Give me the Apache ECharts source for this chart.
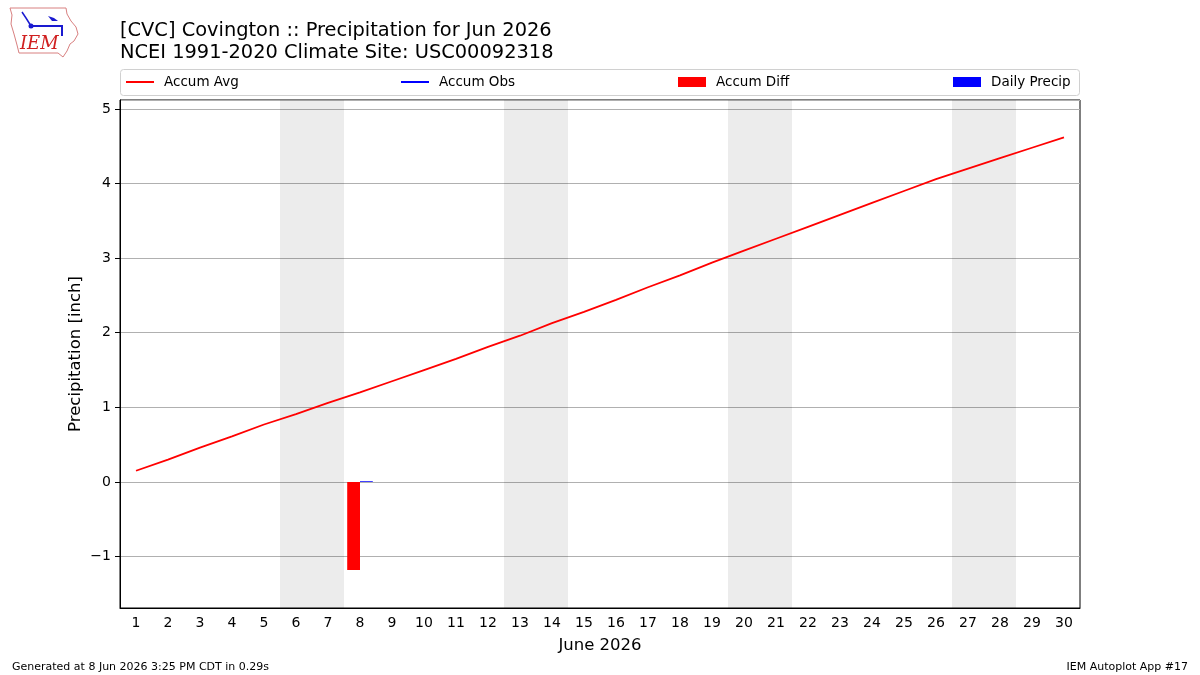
<!DOCTYPE html>
<html>
<head>
<meta charset="utf-8">
<script src="https://cdn.jsdelivr.net/npm/echarts@6/dist/echarts.min.js"></script>
<style>
  html, body { margin: 0; padding: 0; background: #fff; }
  #chart { width: 1200px; height: 675px; }
</style>
</head>
<body>
<div id="chart"></div>
<script>
const days = ['1', '2', '3', '4', '5', '6', '7', '8', '9', '10', '11', '12', '13', '14', '15',
  '16', '17', '18', '19', '20', '21', '22', '23', '24', '25', '26', '27', '28', '29', '30']
const accumAvg = [0.15, 0.30, 0.46, 0.61, 0.77, 0.91, 1.06, 1.20, 1.35, 1.50, 1.65, 1.81, 1.96, 2.13, 2.28,
  2.44, 2.61, 2.77, 2.94, 3.10, 3.26, 3.42, 3.58, 3.74, 3.90, 4.06, 4.20, 4.34, 4.48, 4.62]
const accumObs = [null, null, null, null, null, null, null, 0.01, null, null, null, null, null, null, null,
  null, null, null, null, null, null, null, null, null, null, null, null, null, null, null]
const accumDiff = [null, null, null, null, null, null, null, -1.18, null, null, null, null, null, null, null,
  null, null, null, null, null, null, null, null, null, null, null, null, null, null, null]
const dailyPrecip = [null, null, null, null, null, null, null, 0.01, null, null, null, null, null, null, null,
  null, null, null, null, null, null, null, null, null, null, null, null, null, null, null]
// weekend spans (day ranges shaded grey)
const weekends = [[5.5, 7.5], [12.5, 14.5], [19.5, 21.5], [26.5, 28.5]]

const font = 'DejaVu Sans'
const chart = echarts.init(document.getElementById('chart'), null, { renderer: 'canvas' })

const legendItem = (name, left, isLine) => ({
  data: [{ name, icon: 'rect' }],
  left,
  top: 70,
  itemWidth: 28,
  itemHeight: isLine ? 2 : 10,
  textStyle: { fontFamily: font, fontSize: 13.5, color: '#000', padding: [0, 0, 0, 5] },
  selectedMode: false
})

const option = {
  backgroundColor: '#fff',
  animation: false,
  title: [
    {
      text: '[CVC] Covington :: Precipitation for Jun 2026\nNCEI 1991-2020 Climate Site: USC00092318',
      left: 115,
      top: 15,
      textStyle: { fontFamily: font, fontSize: 19.4, fontWeight: 'normal', color: '#000', lineHeight: 22 }
    },
    {
      text: 'Generated at 8 Jun 2026 3:25 PM CDT in 0.29s',
      left: 7,
      top: 657,
      textStyle: { fontFamily: font, fontSize: 11, fontWeight: 'normal', color: '#000' }
    },
    {
      text: 'IEM Autoplot App #17',
      right: 7,
      top: 657,
      textStyle: { fontFamily: font, fontSize: 11, fontWeight: 'normal', color: '#000' }
    }
  ],
  legend: [
    legendItem('Accum Avg', 121, true),
    legendItem('Accum Obs', 396, true),
    legendItem('Accum Diff', 673, false),
    legendItem('Daily Precip', 948, false)
  ],
  graphic: [
    {
      type: 'rect',
      shape: { x: 120.5, y: 69.5, width: 959, height: 26, r: 3 },
      style: { fill: 'rgba(255,255,255,0)', stroke: '#d0d0d0', lineWidth: 1 },
      z: -1
    },
    {
      type: 'polyline',
      shape: { points: [[10, 8], [66, 8], [67, 14], [71, 21], [76, 27], [78, 34], [74, 41], [70, 44], [67, 51], [63, 57], [58, 53], [19, 53], [17, 45], [14, 34], [11, 24], [12, 15], [10, 8]] },
      style: { stroke: '#d88080', lineWidth: 1, fill: null }
    },
    {
      type: 'polyline',
      shape: { points: [[31, 26], [62, 26], [62, 36]] },
      style: { stroke: '#1a1ad0', lineWidth: 2, fill: null }
    },
    {
      type: 'polyline',
      shape: { points: [[22, 12], [26, 18], [31, 26]] },
      style: { stroke: '#1a1ad0', lineWidth: 1.5, fill: null }
    },
    {
      type: 'polygon',
      shape: { points: [[48, 16], [54, 18], [58, 21], [52, 21]] },
      style: { fill: '#1a1ad0' }
    },
    {
      type: 'circle',
      shape: { cx: 31, cy: 26, r: 2.5 },
      style: { fill: '#1a1ad0' }
    },
    {
      type: 'text',
      left: 20,
      top: 35,
      style: { text: 'IEM', font: 'italic 18px "DejaVu Serif"', fill: '#d02020' }
    }
  ],
  grid: {
    left: 120,
    right: 120,
    top: 100,
    bottom: 67,
    show: true,
    borderColor: '#000',
    borderWidth: 1,
    backgroundColor: 'transparent'
  },
  xAxis: [
    {
      type: 'category',
      data: days,
      boundaryGap: true,
      name: 'June 2026',
      nameLocation: 'middle',
      nameGap: 29,
      nameTextStyle: { fontFamily: font, fontSize: 16.5, color: '#000' },
      axisLine: { onZero: false, lineStyle: { color: '#000' } },
      axisTick: { alignWithLabel: true, length: 5, lineStyle: { color: '#000' } },
      axisLabel: { fontFamily: font, fontSize: 14, color: '#000', interval: 0, margin: 8 },
      splitLine: { show: false }
    },
    {
      type: 'value',
      min: 0.5,
      max: 30.5,
      show: false
    }
  ],
  yAxis: {
    type: 'value',
    min: -1.69,
    max: 5.12,
    splitNumber: 7,
    name: 'Precipitation [inch]',
    nameLocation: 'middle',
    nameGap: 36,
    nameMoveOverlap: false,
    nameTextStyle: { fontFamily: font, fontSize: 16.5, color: '#000' },
    axisLine: { show: true, onZero: false, lineStyle: { color: '#000' } },
    axisTick: { show: true, length: 5, lineStyle: { color: '#000' } },
    axisLabel: {
      fontFamily: font,
      fontSize: 14,
      color: '#000',
      margin: 9,
      showMinLabel: false,
      showMaxLabel: false,
      formatter: v => (v < 0 ? '\u2212' + Math.abs(v) : String(v))
    },
    splitLine: { show: true, lineStyle: { color: '#b0b0b0', width: 1 } }
  },
  series: [
    {
      name: 'weekend',
      type: 'line',
      xAxisIndex: 1,
      data: [],
      silent: true,
      markArea: {
        silent: true,
        itemStyle: { color: 'rgba(0,0,0,0.075)' },
        data: weekends.map(w => [{ xAxis: w[0] }, { xAxis: w[1] }])
      }
    },
    {
      name: 'Accum Avg',
      type: 'line',
      data: accumAvg,
      symbol: 'none',
      lineStyle: { color: '#ff0000', width: 1.8 },
      itemStyle: { color: '#ff0000' },
      z: 3
    },
    {
      name: 'Accum Obs',
      type: 'line',
      data: accumObs,
      symbol: 'none',
      lineStyle: { color: '#0000ff', width: 1.8 },
      itemStyle: { color: '#0000ff' },
      z: 3
    },
    {
      name: 'Accum Diff',
      type: 'bar',
      data: accumDiff,
      barWidth: 12.8,
      barGap: '0%',
      itemStyle: { color: '#ff0000' }
    },
    {
      name: 'Daily Precip',
      type: 'bar',
      data: dailyPrecip,
      barWidth: 12.8,
      barGap: '0%',
      itemStyle: { color: '#0000ff' }
    }
  ]
}

chart.setOption(option)
</script>
</body>
</html>
